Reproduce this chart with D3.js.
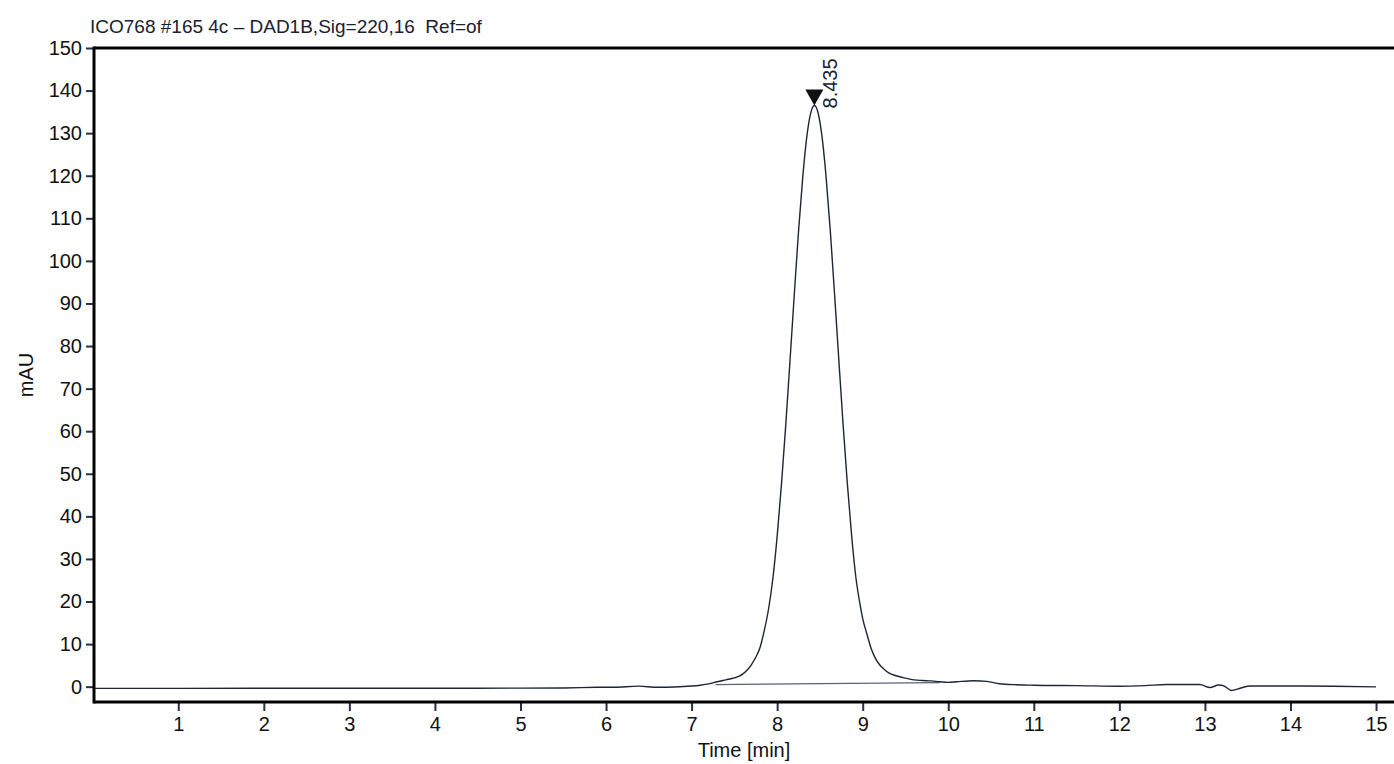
<!DOCTYPE html>
<html>
<head>
<meta charset="utf-8">
<script src="https://cdn.jsdelivr.net/npm/d3@7"></script>
<style>
  html, body { margin: 0; padding: 0; background: #fff; }
  svg { display: block; font-family: "Liberation Sans", Arial, sans-serif; }
</style>
</head>
<body>
<svg id="chart" width="1394" height="764"></svg>
<script>
// ---- data ----
const titleText = "ICO768 #165 4c \u2013 DAD1B,Sig=220,16  Ref=of";
const xTicks = [1, 2, 3, 4, 5, 6, 7, 8, 9, 10, 11, 12, 13, 14, 15];
const yTicks = [0, 10, 20, 30, 40, 50, 60, 70, 80, 90, 100, 110, 120, 130, 140, 150];
const times = [
  0.02, 1, 2, 3, 4, 5, 5.5, 5.9, 6.1, 6.38, 6.6, 6.8,
  7.0, 7.1, 7.2, 7.3, 7.4, 7.5, 7.55, 7.6, 7.65, 7.7, 7.75, 7.8, 7.85, 7.9, 7.95,
  8.0, 8.05, 8.1, 8.15, 8.2, 8.25, 8.3, 8.35, 8.4, 8.435,
  8.47, 8.52, 8.57, 8.62, 8.67, 8.72, 8.77, 8.82, 8.87, 8.92, 8.96,
  9.0, 9.05, 9.1, 9.15, 9.2, 9.25, 9.3, 9.4, 9.5, 9.6, 9.7, 9.8, 9.9, 10.0,
  10.1, 10.3, 10.45, 10.6, 10.8, 11.0, 11.5, 12.0, 12.3, 12.55, 12.94,
  13.06, 13.16, 13.22, 13.31, 13.42, 13.53, 13.9, 14.5, 15.0
];
const signal = [
  -0.4, -0.4, -0.38, -0.38, -0.36, -0.35, -0.3, -0.15, -0.12, 0.12, -0.15, -0.08,
  0.15, 0.35, 0.65, 1.15, 1.6, 2.05, 2.4, 3.0, 3.9, 5.2, 6.9, 9.2, 13.2, 18.3, 25.4,
  35.3, 47.4, 61.3, 76.5, 92.0, 107.0, 119.9, 129.7, 135.3, 136.5,
  135.4, 129.9, 120.2, 107.4, 92.5, 77.0, 61.8, 47.8, 35.6, 25.7, 20.3,
  16.0, 12.3, 8.9, 6.6, 5.1, 4.1, 3.3, 2.5, 2.0, 1.6, 1.45, 1.35, 1.15, 1.0,
  1.15, 1.4, 1.25, 0.7, 0.45, 0.35, 0.25, 0.1, 0.25, 0.5, 0.5,
  -0.2, 0.4, 0.2, -0.9, -0.3, 0.15, 0.15, 0.1, -0.05
];
const baselineTimes = [7.28, 9.9];
const baselineValues = [0.5, 0.95];
const peakTime = 8.435;
const peakValue = 136.5;
const peakLabel = "8.435";

// ---- layout ----
const svg = d3.select("#chart");
const mLeft = 94, mRight = 1394, mTop = 48, mBottom = 702;
const x = d3.scaleLinear().domain([0.015, 15.21]).range([mLeft, mRight]);
const y = d3.scaleLinear().domain([-3.6, 150]).range([mBottom, mTop]);

const ink = "#1c2638";

// title
svg.append("text")
  .attr("x", 90).attr("y", 33)
  .attr("font-size", 19)
  .attr("fill", "#1a2030")
  .style("white-space", "pre")
  .text(titleText);

// y axis
const yAxis = d3.axisLeft(y).tickValues(yTicks).tickSize(8).tickPadding(4).tickFormat(d3.format("d"));
const gy = svg.append("g").attr("transform", `translate(${mLeft},0)`).call(yAxis);
gy.select(".domain").remove();
gy.selectAll(".tick line").attr("stroke", "#263045").attr("stroke-width", 2);
gy.selectAll(".tick text").attr("font-size", 20).attr("fill", "#111").attr("font-family", "Liberation Sans, Arial, sans-serif");

// x axis
const xAxis = d3.axisBottom(x).tickValues(xTicks).tickSize(9).tickPadding(6).tickFormat(d3.format("d"));
const gx = svg.append("g").attr("transform", `translate(0,${mBottom})`).call(xAxis);
gx.select(".domain").remove();
gx.selectAll(".tick line").attr("stroke", "#263045").attr("stroke-width", 2);
gx.selectAll(".tick text").attr("font-size", 20).attr("fill", "#111").attr("font-family", "Liberation Sans, Arial, sans-serif");

// frame lines
svg.append("line").attr("x1", mLeft).attr("x2", mLeft).attr("y1", mTop - 1.5).attr("y2", mBottom + 1.5)
  .attr("stroke", "#000").attr("stroke-width", 3);
svg.append("line").attr("x1", mLeft).attr("x2", mRight).attr("y1", mBottom).attr("y2", mBottom)
  .attr("stroke", "#000").attr("stroke-width", 3);
svg.append("line").attr("x1", mLeft).attr("x2", mRight).attr("y1", mTop).attr("y2", mTop)
  .attr("stroke", "#000").attr("stroke-width", 3);

// axis titles
svg.append("text")
  .attr("x", (mLeft + mRight) / 2).attr("y", 757)
  .attr("text-anchor", "middle").attr("font-size", 20).attr("fill", "#111")
  .text("Time [min]");
svg.append("text")
  .attr("transform", `translate(33,${(mTop + mBottom) / 2}) rotate(-90)`)
  .attr("text-anchor", "middle").attr("font-size", 20).attr("fill", "#111")
  .text("mAU");

// baseline of integration
const baseData = baselineTimes.map((t, i) => [t, baselineValues[i]]);
svg.append("path")
  .datum(baseData)
  .attr("fill", "none")
  .attr("stroke", "#5a6272")
  .attr("stroke-width", 1.2)
  .attr("d", d3.line().x(d => x(d[0])).y(d => y(d[1])));

// signal
const sigData = times.map((t, i) => [t, signal[i]]);
svg.append("path")
  .datum(sigData)
  .attr("fill", "none")
  .attr("stroke", ink)
  .attr("stroke-width", 1.4)
  .attr("d", d3.line().x(d => x(d[0])).y(d => y(d[1])).curve(d3.curveMonotoneX));

// peak marker
const px = x(peakTime), py = y(peakValue);
svg.append("path")
  .attr("d", `M${px - 9},${py - 16} L${px + 9},${py - 16} L${px},${py} Z`)
  .attr("fill", "#111");
svg.append("text")
  .attr("transform", `translate(${px + 23},${py + 3}) rotate(-90)`)
  .attr("font-size", 20).attr("fill", "#1a2030")
  .text(peakLabel);
</script>
</body>
</html>
